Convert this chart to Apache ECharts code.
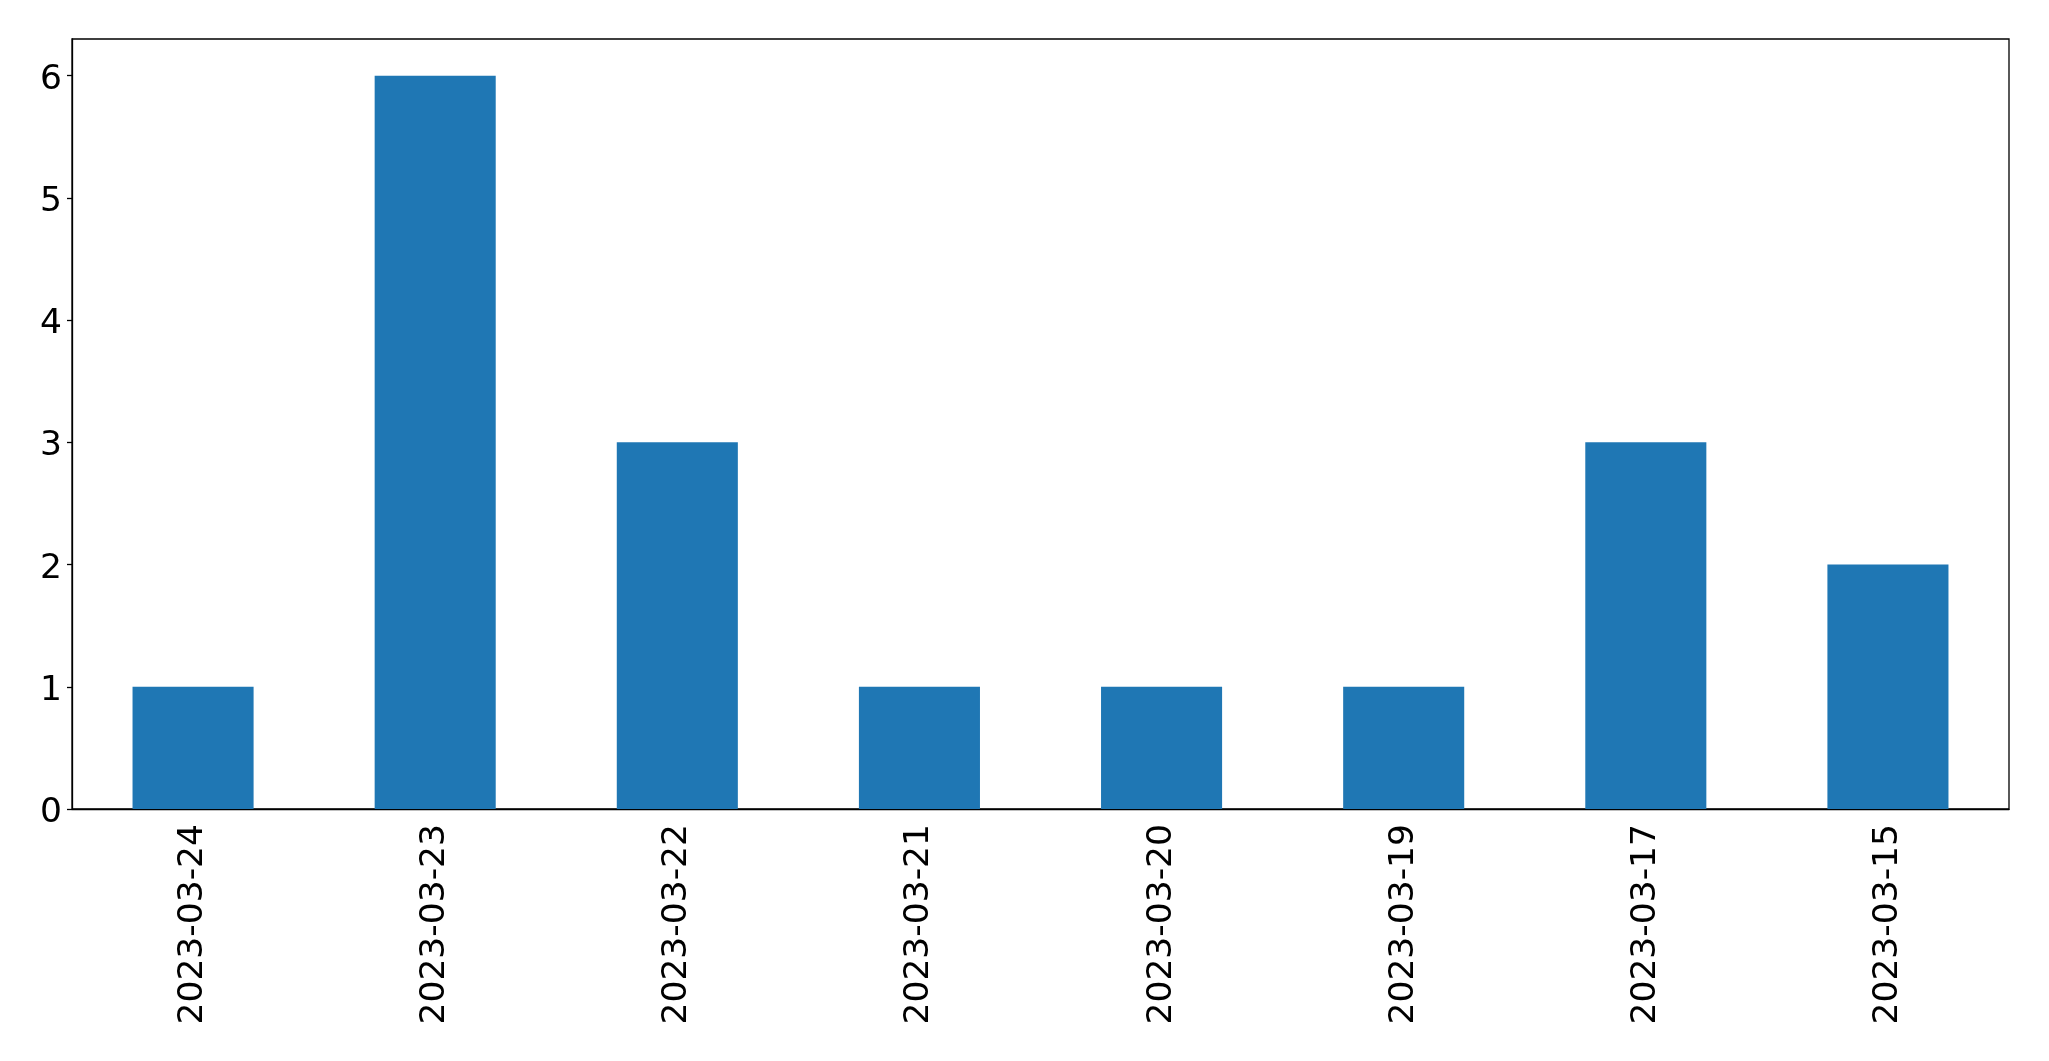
<!DOCTYPE html>
<html>
<head>
<meta charset="utf-8">
<script src="https://cdn.jsdelivr.net/npm/echarts@6/dist/echarts.min.js"></script>
<style>html,body{margin:0;padding:0;background:#fff;}#c{width:2049px;height:1061px;}</style>
</head>
<body>
<div id="c"></div>
<script>
const categories = ['2023-03-24','2023-03-23','2023-03-22','2023-03-21','2023-03-20','2023-03-19','2023-03-17','2023-03-15'];
const values = [1, 6, 3, 1, 1, 1, 3, 2];
const yTicks = [0, 1, 2, 3, 4, 5, 6];
const yMax = 6.3;

const chart = echarts.init(document.getElementById('c'), null, {renderer: 'canvas'});
const font = 'DejaVu Sans';
chart.setOption({
  animation: false,
  grid: {left: 72, top: 39, right: 40, bottom: 252, show: true, borderColor: '#000', borderWidth: 1.3, backgroundColor: 'transparent'},
  xAxis: {
    type: 'category',
    data: categories,
    boundaryGap: true,
    axisLine: {lineStyle: {color: '#000', width: 1.3}},
    axisTick: {alignWithLabel: true, length: 5, lineStyle: {color: '#000', width: 1.3}},
    axisLabel: {rotate: 90, color: '#000', fontSize: 34.5, fontFamily: font, margin: 15, interval: 0}
  },
  yAxis: {
    type: 'value',
    min: 0,
    max: yMax,
    interval: 1,
    splitLine: {show: false},
    axisLine: {show: true, lineStyle: {color: '#000', width: 1.3}},
    axisTick: {show: true, length: 5, lineStyle: {color: '#000', width: 1.3}, customValues: yTicks},
    axisLabel: {
      color: '#000', fontSize: 34.5, fontFamily: font, margin: 10, customValues: yTicks,
      formatter: function (v) { return '{a|' + v + '}'; },
      rich: {a: {color: '#000', fontSize: 34.5, fontFamily: font, padding: [8, 0, 0, 0]}}
    }
  },
  series: [{
    type: 'bar',
    data: values,
    barWidth: '50%',
    itemStyle: {color: '#1f77b4'}
  }]
});
</script>
</body>
</html>
